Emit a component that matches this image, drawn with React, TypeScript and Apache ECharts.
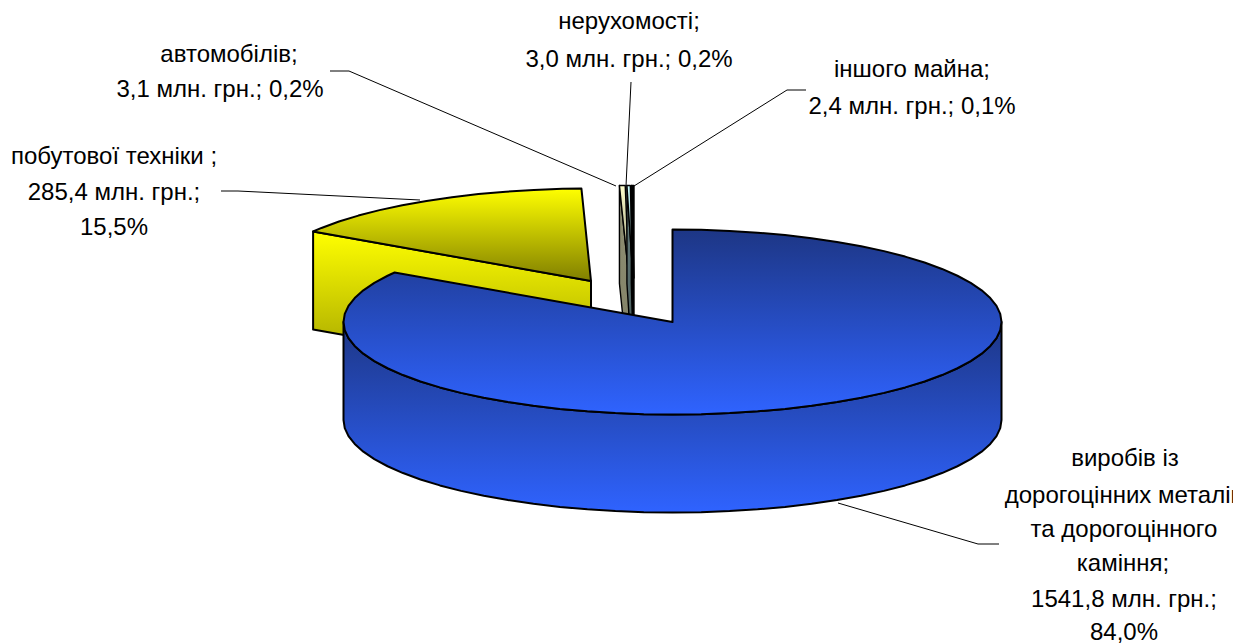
import React, { useEffect, useRef } from "react";
import * as echarts from "echarts";

// ---- data ----
const sliceNames = ["виробів із дорогоцінних металів та дорогоцінного каміння", "побутової техніки", "автомобілів", "нерухомості", "іншого майна"];
const sliceValues = [1541.8, 285.4, 3.1, 3.0, 2.4];

// ---- label texts: one entry per printed line ----
const labelLines = [
  "автомобілів;",
  "3,1 млн. грн.; 0,2%",
  "побутової техніки ;",
  "285,4 млн. грн.;",
  "15,5%",
  "нерухомості;",
  "3,0 млн. грн.; 0,2%",
  "іншого майна;",
  "2,4 млн. грн.; 0,1%",
  "виробів із",
  "дорогоцінних металів",
  "та дорогоцінного",
  "каміння;",
  "1541,8 млн. грн.;",
  "84,0%",
];
const labelX = [229, 220, 114, 114, 114, 629, 629, 912, 912, 1125, 1124, 1124, 1123, 1124, 1124];
const labelY = [53, 88, 155, 191, 226, 20, 58, 68, 105, 457, 494, 528, 562, 598, 631];

// ---- leader lines (style/layout) ----
const leaders = [
  [[330, 71], [349, 71], [616, 186]],
  [[221, 191], [238, 191], [420, 200]],
  [[631, 82], [626, 186]],
  [[806, 90], [787, 90], [634, 186]],
  [[999, 544], [978, 544], [838, 503]],
];

// ---- pie geometry & colours (style/layout) ----
const rx = 329;
const ry = 92.5;
const depth = 98;
const apexes = [[672.5, 322], [591, 281], [629, 278], [633, 278], [634, 278]];
const sweepPad = [0, 0, 0.4, 0, 0]; // thin slices are drawn a touch wider, as in the picture
const zOfSlice = [10, 1, 2, 3, 4];
const strokeW = [2, 2, 1.4, 1.4, 1.4];
const topColors = [["#1d3685", "#2f63ff"], ["#ffff00", "#807f00"], ["#ffffcc", "#808066"], ["#ccffff", "#668080"], ["#000000", "#000000"]];
const wallColors = [["#1d3685", "#2f63ff"], ["#ffff00", "#999900"], ["#8f8f72", "#808066"], ["#668080", "#445555"], ["#000000", "#000000"]];
const arcStepDeg = 5;

const grad = (c: string[]) =>
  new echarts.graphic.LinearGradient(0, 0, 0, 1, [
    { offset: 0, color: c[0] },
    { offset: 1, color: c[1] },
  ]);

const total = sliceValues.reduce((a, b) => a + b, 0);

function renderSlice(params: any, api: any) {
  const i = params.dataIndex;
  const value = api.value(0);
  let before = 0;
  for (let k = 0; k < i; k++) before += sliceValues[k];
  const start = (before / total) * 360;
  const end = ((before + value) / total) * 360 + sweepPad[i];
  const [ax, ay] = apexes[i];
  const pt = (deg: number, dy = 0) => {
    const r = (deg * Math.PI) / 180;
    return [ax + rx * Math.sin(r), ay - ry * Math.cos(r) + dy];
  };
  const arc = (a: number, b: number, dy = 0) => {
    const out = [pt(a, dy)];
    for (let d = Math.ceil(a / arcStepDeg + 1e-6) * arcStepDeg; d < b; d += arcStepDeg) out.push(pt(d, dy));
    out.push(pt(b, dy));
    return out;
  };
  const z2 = zOfSlice[i];
  const border = { stroke: "#000", lineWidth: strokeW[i], lineJoin: "round" };
  const children: any[] = [];
  // outer wall, front half
  const fa = Math.max(start, 90);
  const fb = Math.min(end, 270);
  if (fb > fa) {
    children.push({
      type: "polygon",
      z2,
      shape: { points: [...arc(fa, fb), ...arc(fa, fb, depth).reverse()] },
      style: { fill: grad(wallColors[i]), ...border },
    });
  }
  // cut wall facing the viewer
  if (start > 180) {
    const p = pt(start);
    children.push({
      type: "polygon",
      z2,
      shape: { points: [p, [ax, ay], [ax, ay + depth], [p[0], p[1] + depth]] },
      style: { fill: grad(wallColors[i]), ...border },
    });
  }
  // top face
  children.push({
    type: "polygon",
    z2: z2 + 0.5,
    shape: { points: [[ax, ay], ...arc(start, end)] },
    style: { fill: grad(topColors[i]), ...border },
  });
  return { type: "group", children };
}

export default function App() {
  const ref = useRef<HTMLDivElement>(null);
  useEffect(() => {
    document.body.style.margin = "0";
    const chart = echarts.init(ref.current!, undefined, { renderer: "svg" });
    const graphic: any[] = [
      ...leaders.map((pts) => ({
        type: "polyline",
        shape: { points: pts },
        style: { stroke: "#000", lineWidth: 1, fill: "none" },
        z: 20,
      })),
      ...labelLines.map((t, i) => ({
        type: "text",
        x: labelX[i],
        y: labelY[i],
        z: 21,
        style: {
          text: t,
          fill: "#000",
          fontFamily: '"Liberation Sans", Arial, sans-serif',
          fontSize: 24,
          align: "center",
          verticalAlign: "middle",
        },
      })),
      { type: "rect", z: 22, shape: { x: 1233, y: 0, width: 17, height: 644 }, style: { fill: "#fff" } },
    ];
    chart.setOption({
      animation: false,
      backgroundColor: "#fff",
      graphic,
      series: [
        {
          type: "custom",
          coordinateSystem: "none",
          clip: false,
          silent: true,
          renderItem: renderSlice,
          data: sliceValues.map((v, i) => ({ name: sliceNames[i], value: [v] })),
        },
      ],
    });
    return () => chart.dispose();
  }, []);
  return <div ref={ref} style={{ width: 1250, height: 644 }} />;
}
